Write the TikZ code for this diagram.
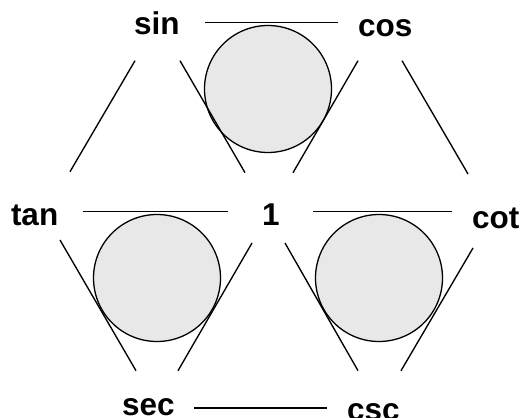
\documentclass[tikz,border=0pt]{standalone}
\usepackage{fontspec}
\setmainfont{Liberation Sans}
\definecolor{circfill}{RGB}{232,232,232}
\begin{document}
\begin{tikzpicture}[x=1pt,y=-1pt,
  lbl/.style={inner sep=0pt,outer sep=0pt,anchor=base west,font=\fontsize{31.5}{32}\selectfont\bfseries},
  edge/.style={line width=1.35pt,black},
  circ/.style={circle,draw=black,line width=1.3pt,fill=circfill,minimum size=127pt,inner sep=0pt}]
\useasboundingbox (0,0) rectangle (521,417);
% labels
\node[lbl] (sin) at (134,35) {sin};
\node[lbl] (cos) at (358,37) {cos};
\node[lbl] (tan) at (11,225) {tan};
\node[lbl] (one) at (262,225) {1};
\node[lbl] (cot) at (472,228) {cot};
\node[lbl] (sec) at (122,415) {sec};
\node[lbl] (csc) at (347,420) {csc};
% circles
\node[circ] (c1) at (268,89) {};
\node[circ] (c2) at (157,278) {};
\node[circ] (c3) at (379,278) {};
% segment end points
\coordinate (sc1) at (205,22.7); \coordinate (sc2) at (338,22.7);
\coordinate (st1) at (135,60.7); \coordinate (st2) at (70,171.7);
\coordinate (so1) at (180,60.7); \coordinate (so2) at (245,172.7);
\coordinate (co1) at (358,60.7); \coordinate (co2) at (293,172.7);
\coordinate (cc1) at (402,60.7); \coordinate (cc2) at (468,174);
\coordinate (to1) at (83,211.7); \coordinate (to2) at (228,211.7);
\coordinate (oc1) at (313,211.7); \coordinate (oc2) at (452,211.7);
\coordinate (ts1) at (60,240); \coordinate (ts2) at (136,370.7);
\coordinate (os1) at (252,243); \coordinate (os2) at (178,370.7);
\coordinate (ox1) at (285,243); \coordinate (ox2) at (358,370.7);
\coordinate (cx1) at (473,248); \coordinate (cx2) at (401,370.7);
\coordinate (sx1) at (194,408); \coordinate (sx2) at (327,408);
% connectors
\draw[edge] (sc1) -- (sc2);
\draw[edge] (st1) -- (st2);
\draw[edge] (so1) -- (so2);
\draw[edge] (co1) -- (co2);
\draw[edge] (cc1) -- (cc2);
\draw[edge] (to1) -- (to2);
\draw[edge] (oc1) -- (oc2);
\draw[edge] (ts1) -- (ts2);
\draw[edge] (os1) -- (os2);
\draw[edge] (ox1) -- (ox2);
\draw[edge] (cx1) -- (cx2);
\draw[edge] (sx1) -- (sx2);
\end{tikzpicture}
\end{document}
